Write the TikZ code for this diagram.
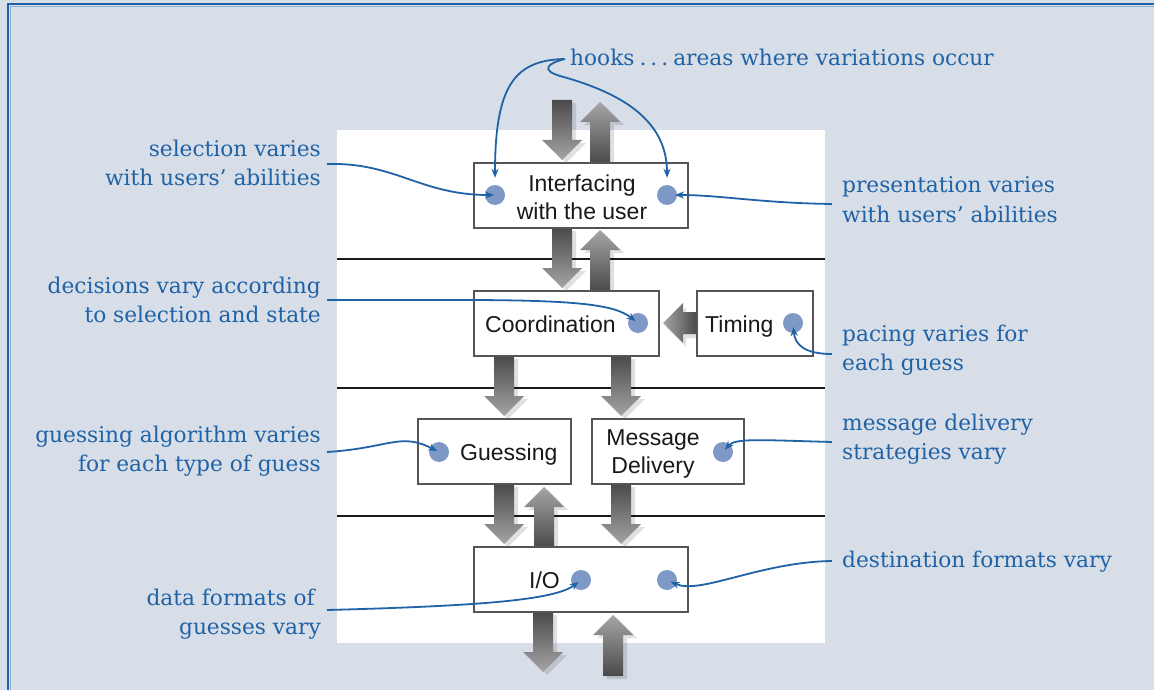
\documentclass[tikz,border=0pt]{standalone}
\usepackage{fontspec}
\setmainfont{DejaVu Serif}
\newfontfamily\boxfont{Liberation Sans}
\usetikzlibrary{arrows.meta}
\definecolor{bgc}{HTML}{D7DEE8}
\definecolor{framec}{HTML}{1F62AA}
\definecolor{framel}{HTML}{8FB0D8}
\definecolor{lblc}{HTML}{1F62A6}
\definecolor{dotc}{HTML}{7F99C6}
\definecolor{boxline}{HTML}{555555}
\definecolor{arrdark}{HTML}{4A4A4A}
\definecolor{arrlight}{HTML}{A5A5A5}
\newcommand\blockdown[3]{%
 \fill[black,opacity=.12,xshift=4pt,yshift=-3pt] (#1-10,#2) -- (#1+10,#2) -- (#1+10,#3-20) -- (#1+20,#3-20) -- (#1,#3) -- (#1-20,#3-20) -- (#1-10,#3-20) -- cycle;
 \shade[top color=arrdark,bottom color=arrlight] (#1-10,#2) -- (#1+10,#2) -- (#1+10,#3-20) -- (#1+20,#3-20) -- (#1,#3) -- (#1-20,#3-20) -- (#1-10,#3-20) -- cycle;}
\newcommand\blockup[3]{%
 \fill[black,opacity=.12,xshift=4pt,yshift=-3pt] (#1-10,#2) -- (#1+10,#2) -- (#1+10,#3+20) -- (#1+20,#3+20) -- (#1,#3) -- (#1-20,#3+20) -- (#1-10,#3+20) -- cycle;
 \shade[top color=arrlight,bottom color=arrdark] (#1-10,#2) -- (#1+10,#2) -- (#1+10,#3+20) -- (#1+20,#3+20) -- (#1,#3) -- (#1-20,#3+20) -- (#1-10,#3+20) -- cycle;}
\newcommand\blockleft[3]{%
 \fill[black,opacity=.12,xshift=3pt,yshift=-4pt] (#2,#1-11) -- (#2,#1+11) -- (#3+20,#1+11) -- (#3+20,#1+20) -- (#3,#1) -- (#3+20,#1-20) -- (#3+20,#1-11) -- cycle;
 \shade[left color=arrlight,right color=arrdark] (#2,#1-11) -- (#2,#1+11) -- (#3+20,#1+11) -- (#3+20,#1+20) -- (#3,#1) -- (#3+20,#1-20) -- (#3+20,#1-11) -- cycle;}
\begin{document}
\begin{tikzpicture}[x=1pt,y=-1pt,
  lbl/.style={font=\fontsize{21.7}{29}\selectfont, text=lblc, inner sep=0pt},
  lblL/.style={lbl, align=right, anchor=east},
  lblR/.style={lbl, align=left, anchor=west},
  boxnode/.style={draw=boxline, line width=1.6pt, fill=white, inner sep=0pt, minimum height=65pt},
  boxtxt/.style={font=\boxfont\fontsize{23}{28}\selectfont, text=black!90, inner sep=0pt, align=center},
  dot/.style={circle, fill=dotc, minimum size=20pt, inner sep=0pt},
  conn/.style={draw=lblc, line width=1.8pt, -{Stealth[length=9pt,width=7pt]}},
  layerline/.style={draw=black!90, line width=2pt}]
\useasboundingbox (0,0) rectangle (1154,690);
\fill[bgc] (0,0) rectangle (1154,690);
\draw[framec, line width=2.6pt] (8,690) -- (8,4) -- (1154,4);
\draw[framel, line width=1pt] (10.5,690) -- (10.5,6.5) -- (1154,6.5);
\fill[white] (337,130) rectangle (825,643);
% layer lines
\draw[layerline] (337,259) -- (825,259);
\draw[layerline] (337,388) -- (825,388);
\draw[layerline] (337,516) -- (825,516);
% block arrows
\blockdown{562}{100}{160}
\blockup{600}{163}{102}
\blockdown{562}{228}{288}
\blockup{600}{291}{230}
\blockleft{323}{697}{663}
\blockdown{504}{356}{416}
\blockdown{621}{356}{416}
\blockdown{504}{484}{544}
\blockup{544}{547}{487}
\blockdown{621}{484}{544}
\blockdown{543}{612}{672}
\blockup{613}{676}{615}
% boxes
\node[boxnode, minimum width=214pt] (iface) at (581,195.5) {};
\node[boxnode, minimum width=185pt] (coord) at (566.5,323.5) {};
\node[boxnode, minimum width=116pt] (timing) at (755,323.5) {};
\node[boxnode, minimum width=153pt] (guess) at (494.5,451.5) {};
\node[boxnode, minimum width=152pt] (msg) at (668,451.5) {};
\node[boxnode, minimum width=214pt] (io) at (581,579.5) {};
% box texts
\node[boxtxt] (ifaceT) at (582,197) {Interfacing\\with the user};
\node[boxtxt, anchor=base west] (coordT) at (485,332) {Coordination};
\node[boxtxt, anchor=base west] (timingT) at (705,332) {Timing};
\node[boxtxt, anchor=base west] (guessT) at (460,460) {Guessing};
\node[boxtxt] (msgT) at (653,454) {Message\\Delivery};
\node[boxtxt, anchor=base west] (ioT) at (529,588) {I/O};
% dots
\node[dot] (d1) at (495,195) {};
\node[dot] (d2) at (667,195) {};
\node[dot] (d3) at (638,323) {};
\node[dot] (d4) at (793,323) {};
\node[dot] (d5) at (439,452) {};
\node[dot] (d6) at (723,452) {};
\node[dot] (d7) at (581,580) {};
\node[dot] (d8) at (667,580) {};
% labels
\node[lbl, anchor=base west] (hooks) at (570,66) {hooks\hspace{5pt}.\hspace{4pt}.\hspace{4pt}.\hspace{5pt}areas where variations occur};
\node[lblL] (sel) at (321,165.7) {selection varies\strut\\with users’ abilities\strut};
\node[lblL] (dec) at (321,301.7) {decisions vary according\strut\\to selection and state\strut};
\node[lblL] (gue) at (321,451.2) {guessing algorithm varies\strut\\for each type of guess\strut};
\node[lblL] (dat) at (321,613.7) {data formats of\kern6pt\strut\\guesses vary\strut};
\node[lblR] (pre) at (842,201.7) {presentation varies\strut\\with users’ abilities\strut};
\node[lblR] (pac) at (842,350.2) {pacing varies for\strut\\each guess\strut};
\node[lblR] (mes) at (842,439.2) {message delivery\strut\\strategies vary\strut};
\node[lbl, anchor=base west] (dst) at (842,567) {destination formats vary};
% connector free ends
\coordinate (hookS) at (565,59);
\coordinate (selE) at (327,164);
\coordinate (decE) at (327,300);
\coordinate (gueE) at (327,452);
\coordinate (datE) at (327,610);
\coordinate (preW) at (832,204);
\coordinate (pacW) at (832,354);
\coordinate (mesW) at (832,442);
\coordinate (dstW) at (832,561);
% connectors
\draw[conn, shorten >=7pt] (hookS) .. controls (515,60) and (495,85) .. (d1.north);
\draw[conn, shorten >=7pt] (hookS) .. controls (548,63) and (540,70) .. (560,76) .. controls (630,95) and (667,125) .. (d2.north);
\draw[conn, shorten >=1pt] (selE) .. controls (395,162) and (420,195) .. (d1.center);
\draw[conn, shorten >=8pt] (preW) .. controls (760,203) and (720,195) .. (d2.center);
\draw[conn, shorten >=3pt] (decE) -- (460,300) .. controls (580,300) and (615,305) .. (d3.center);
\draw[conn, shorten >=4pt] (pacW) .. controls (805,354) and (795,345) .. (d4.center);
\draw[conn, shorten >=2pt] (gueE) .. controls (390,448) and (400,432) .. (d5.center);
\draw[conn, shorten >=3pt] (mesW) .. controls (760,440) and (735,438) .. (d6.center);
\draw[conn, shorten >=3pt] (datE) .. controls (480,606) and (555,600) .. (d7.center);
\draw[conn, shorten >=4pt] (dstW) .. controls (760,562) and (700,595) .. (d8.center);
\end{tikzpicture}
\end{document}
